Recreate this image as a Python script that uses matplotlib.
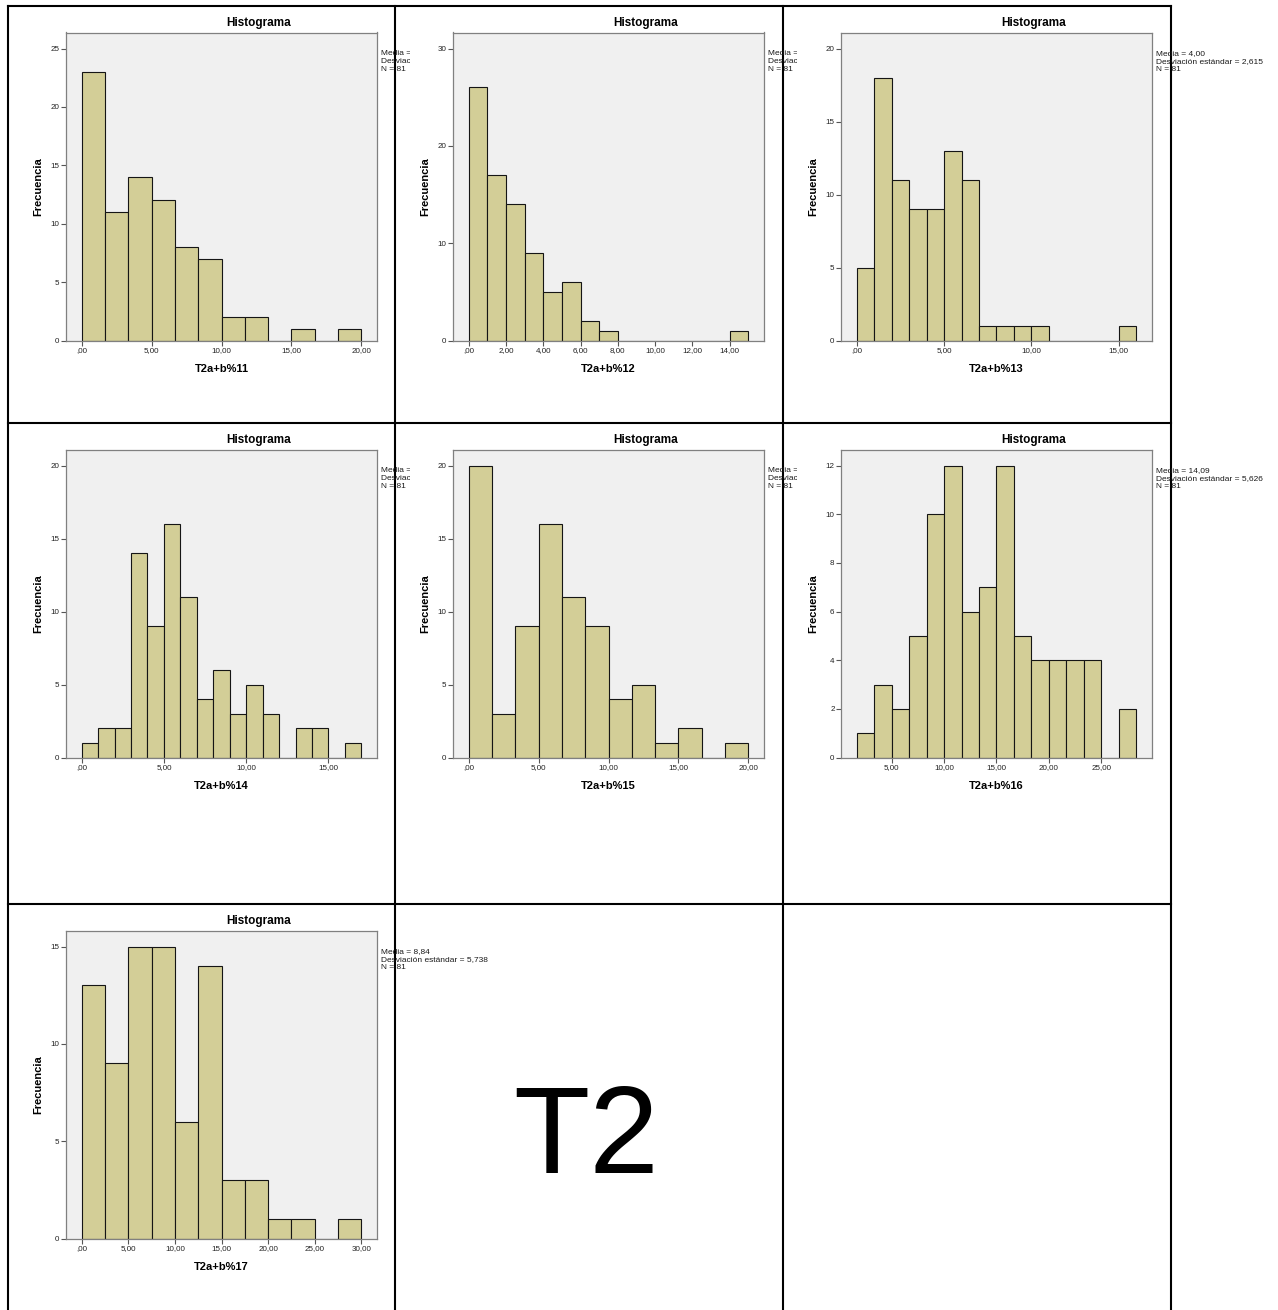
import matplotlib
matplotlib.use("Agg")
import matplotlib.pyplot as plt
from matplotlib.lines import Line2D
from matplotlib.transforms import Bbox, TransformedBbox

plt.rcParams["font.family"] = ["Liberation Sans", "DejaVu Sans"]

W, H = 1278, 1310

# frecuencias por intervalo de cada variable
variables = ["T2a+b%11", "T2a+b%12", "T2a+b%13", "T2a+b%14",
             "T2a+b%15", "T2a+b%16", "T2a+b%17"]
frec_11 = [23, 11, 14, 12, 8, 7, 2, 2, 0, 1, 0, 1]
frec_12 = [26, 17, 14, 9, 5, 6, 2, 1, 0, 0, 0, 0, 0, 0, 1]
frec_13 = [5, 18, 11, 9, 9, 13, 11, 1, 1, 1, 1, 0, 0, 0, 0, 1]
frec_14 = [1, 2, 2, 14, 9, 16, 11, 4, 6, 3, 5, 3, 0, 2, 2, 0, 1]
frec_15 = [20, 3, 9, 16, 11, 9, 4, 5, 1, 2, 0, 1]
frec_16 = [1, 3, 2, 5, 10, 12, 6, 7, 12, 5, 4, 4, 4, 4, 0, 2]
frec_17 = [13, 9, 15, 15, 6, 14, 3, 3, 1, 1, 0, 1]
frecuencias = [frec_11, frec_12, frec_13, frec_14, frec_15, frec_16, frec_17]

# inicio y ancho de los intervalos
inicio = [0, 0, 0, 0, 0, 5 / 3, 0]
ancho = [5 / 3, 1, 1, 1, 5 / 3, 5 / 3, 2.5]

xticks = [[0, 5, 10, 15, 20], [0, 2, 4, 6, 8, 10, 12, 14], [0, 5, 10, 15],
          [0, 5, 10, 15], [0, 5, 10, 15, 20], [5, 10, 15, 20, 25],
          [0, 5, 10, 15, 20, 25, 30]]
yticks = [[0, 5, 10, 15, 20, 25], [0, 10, 20, 30], [0, 5, 10, 15, 20],
          [0, 5, 10, 15, 20], [0, 5, 10, 15, 20], [0, 2, 4, 6, 8, 10, 12],
          [0, 5, 10, 15]]

medias = [None, None, "4,00", None, None, "14,09", "8,84"]
desviaciones = [None, None, "2,615", None, None, "5,626", "5,738"]
n_casos = 81

# celdas de la tabla (izquierda, arriba) en píxeles
col_x = [8, 395, 783, 1171]
row_y = [6, 423, 904, 1310]
celdas = [(0, 0), (1, 0), (2, 0), (0, 1), (1, 1), (2, 1), (0, 2)]


def fx(x):
    return x / W


def fy(y):
    return 1 - y / H


def fmt(v):
    s = f"{v:.2f}".replace(".", ",")
    return s[1:] if s.startswith("0,") else s


fig = plt.figure(figsize=(W / 100, H / 100), dpi=100)

for i, var in enumerate(variables):
    c, r = celdas[i]
    cx, cy = col_x[c], row_y[r]
    ax_l, ax_t = cx + 58, cy + 26.5
    ax = fig.add_axes([fx(ax_l), fy(ax_t + 308), 311 / W, 308 / H])
    ax.set_facecolor("#f0f0f0")

    counts = frecuencias[i]
    lefts = [inicio[i] + k * ancho[i] for k in range(len(counts))]
    ax.bar(lefts, counts, width=ancho[i], align="edge", color="#d3ce97",
           edgecolor="#151515", linewidth=0.8)

    lo, hi = inicio[i], inicio[i] + ancho[i] * len(counts)
    pad = 0.056 * (hi - lo)
    ax.set_xlim(lo - pad, hi + pad)
    ax.set_ylim(0, yticks[i][-1] * 1.055)

    ax.set_xticks(xticks[i])
    ax.set_xticklabels([fmt(v) for v in xticks[i]])
    ax.set_yticks(yticks[i])
    ax.set_yticklabels([str(v) for v in yticks[i]])
    ax.tick_params(labelsize=5.8, length=3.6, width=0.8, color="#555555",
                   labelcolor="#222222", pad=1)
    for sp in ax.spines.values():
        sp.set_color("#808080")
        sp.set_linewidth(0.9)

    ax.set_xlabel(var, fontsize=8, fontweight="bold", labelpad=7.5)
    ax.set_ylabel("Frecuencia", fontsize=8, fontweight="bold")
    ax.yaxis.set_label_coords((cx + 35.5 - ax_l) / 311, 0.5)

    fig.text(fx(cx + 251), fy(cy + 17), "Histograma", fontsize=8.5,
             fontweight="bold", ha="center", va="center")

    # cuadro de estadísticos (recortado por la celda vecina en algunos casos)
    if medias[i] is not None:
        lineas = [f"Media = {medias[i]}",
                  f"Desviación estándar = {desviaciones[i]}",
                  f"N = {n_casos}"]
    else:
        lineas = ["Media = ", "Desviación estándar = ", f"N = {n_casos}"]
    clip = None
    if medias[i] is None:
        clip = TransformedBbox(
            Bbox.from_extents(fx(cx + 370), 0, fx(cx + 402), 1),
            fig.transFigure)
    for k, txt in enumerate(lineas):
        t = fig.text(fx(cx + 373), fy(ax_t + 20.7 + 8.3 * k), txt,
                     fontsize=6, ha="left", va="center", color="#1a1a1a")
        if clip is not None:
            t.set_clip_box(clip)
            t.set_clip_on(True)

fig.text(fx(586), fy(1173), "T2", fontsize=90, ha="center", va="baseline",
         color="black")

# líneas de la tabla
for x in col_x:
    fig.add_artist(Line2D([fx(x), fx(x)], [fy(row_y[0]), fy(H + 5)],
                          color="black", linewidth=1.5))
for y in row_y[:3]:
    fig.add_artist(Line2D([fx(col_x[0]), fx(col_x[-1])], [fy(y), fy(y)],
                          color="black", linewidth=1.5))

plt.savefig("out.png", dpi=100, facecolor="white")
